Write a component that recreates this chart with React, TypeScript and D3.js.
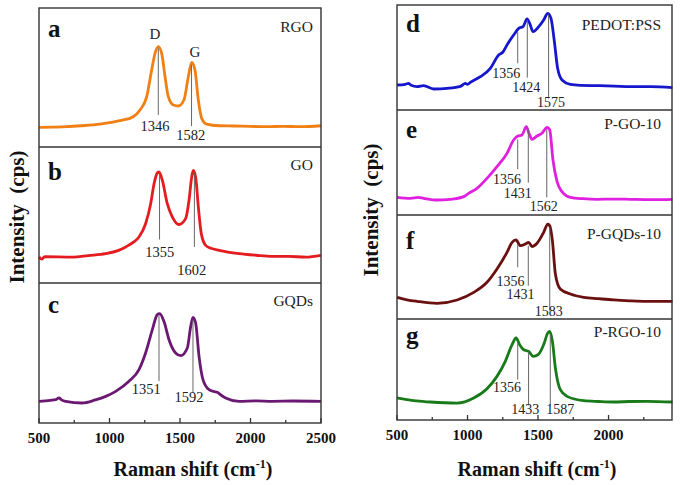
import React from 'react';
import * as d3 from 'd3';

// ---------- data (wavenumber cm-1, relative intensity 0-100 of each panel) ----------
const leftTicks = [500, 1000, 1500, 2000, 2500];
const rightTicks = [500, 1000, 1500, 2000];
const minorTicks = [750, 1250, 1750, 2250];

const rgo: [number, number][] = [[500,14.1],[600,14.3],[696,14.6],[800,15.3],[933,16.5],[1074,18.9],[1169,21.8],[1216,26.6],[1264,36.2],[1299,55.4],[1323,67.4],[1346,72.2],[1370,67.4],[1394,50.6],[1417,36.2],[1453,30.2],[1488,29.5],[1528,33.8],[1559,50.6],[1583,60.9],[1606,55.4],[1630,33.8],[1654,20.6],[1689,16.5],[1780,15.3],[1878,15.1],[2000,14.8],[2115,14.6],[2230,14.9],[2351,14.6],[2500,15.3]];
const go: [number, number][] = [[500,19.1],[520,17.5],[540,19.3],[736,19],[850,20.2],[973,21.6],[1060,23.8],[1115,26.5],[1170,30],[1209,33.8],[1256,43.6],[1292,58.3],[1316,73],[1339,80.9],[1351,81.6],[1375,75.5],[1410,58.3],[1446,48.5],[1493,43],[1540,47.3],[1564,60.8],[1583,78],[1594,82.8],[1611,78],[1630,55.9],[1651,36.3],[1682,27.7],[1720,25.5],[1777,24],[1918,21.6],[2040,20.4],[2155,19.6],[2270,19.6],[2391,19],[2500,20.3]];
const gqds: [number, number][] = [[500,15.5],[580,16.2],[618,16.7],[642,17.9],[660,16.5],[689,15.5],[807,14.3],[900,16.5],[973,19],[1044,22.6],[1138,29.8],[1209,38.1],[1256,50],[1304,66.7],[1339,77.4],[1356,78.1],[1386,72.6],[1422,59.5],[1469,50],[1505,48.1],[1552,53.6],[1576,69],[1592,75.5],[1611,71.4],[1635,47.6],[1663,31],[1706,23.8],[1740,22.5],[1765,21.9],[1790,20],[1824,17.9],[1918,15.5],[2040,15.8],[2155,15.5],[2300,15.7],[2500,15.5]];
const pedot: [number, number][] = [[500,23.8],[560,24.5],[583,25.4],[600,23.5],[642,22.2],[689,23.2],[760,20],[855,20.6],[950,22.5],[985,25.4],[1000,24.5],[1020,26.3],[1091,31.7],[1162,39.7],[1221,52.4],[1250,55],[1280,61.9],[1327,71.4],[1363,77.8],[1394,79.4],[1422,86.7],[1441,82.5],[1465,74.6],[1505,79.4],[1540,85.7],[1569,92.1],[1592,87.3],[1616,65.1],[1639,39.7],[1670,28.6],[1729,24.4],[1800,23.5],[1918,23.2],[2040,22.8],[2155,22.2],[2300,22.2],[2453,21.3]];
const pgo: [number, number][] = [[500,16.8],[595,15.9],[650,16.8],[689,15.9],[784,14.3],[878,14.9],[973,17.5],[1008,20.6],[1067,25.4],[1138,34.9],[1209,46],[1280,58.7],[1327,71.4],[1356,75.2],[1386,76.2],[1417,84.1],[1436,77.8],[1457,72.1],[1493,75.2],[1528,77.8],[1564,83.5],[1583,81],[1606,52.4],[1635,31.7],[1670,22.2],[1729,16.8],[1820,15.5],[1918,14.9],[2040,15.2],[2155,14.9],[2300,14.6],[2453,14.9]];
const pgqds: [number, number][] = [[500,20.8],[570,18.5],[642,17],[784,15.1],[926,18.3],[1044,25.6],[1138,35.3],[1209,48.1],[1280,64.1],[1316,73.7],[1344,76],[1375,70.5],[1410,72.1],[1434,73.7],[1457,69.6],[1493,72.8],[1540,83.3],[1569,91.3],[1583,89.7],[1602,75.3],[1623,43.3],[1658,28.8],[1729,24],[1824,20.8],[1930,19.5],[2037,18.3],[2150,17.5],[2273,17],[2453,17]];
const prgo: [number, number][] = [[500,21.8],[560,20.5],[618,19.1],[736,17.8],[926,16.8],[1044,21.8],[1138,31],[1209,43.2],[1268,58.1],[1316,74.6],[1344,81.2],[1370,74.6],[1398,69.6],[1434,68],[1465,63],[1505,65.3],[1540,74.6],[1569,86.1],[1583,87.8],[1602,77.9],[1623,51.5],[1658,30],[1706,23.4],[1824,19.1],[1930,18.3],[2037,17.8],[2150,18.3],[2273,18.5],[2453,17.8]];

// peak annotations: [peak label, line top I, line bottom I, label centre wavenumber, label baseline I]
const rgoPeaks: [number, number, number, number, number][] = [[1346,71,23,1323,11.8],[1582,59,15,1576,5]];
const goPeaks: [number, number, number, number, number][] = [[1355,80,32,1356,19],[1602,81,26.5,1583,5.6]];
const gqdsPeaks: [number, number, number, number, number][] = [[1351,77,30,1261,20.7],[1592,73.8,21.4,1564,14.8]];
const pedotPeaks: [number, number, number, number, number][] = [[1356,74.6,44.4,1275,30.8],[1424,85.7,30.8,1417,16.8],[1575,91,11,1592,3.2]];
const pgoPeaks: [number, number, number, number, number][] = [[1356,72,43.5,1280,29.5],[1431,82.5,30.8,1356,15.9],[1562,81.6,16.8,1540,3.8]];
const pgqdsPeaks: [number, number, number, number, number][] = [[1356,72,49.7,1304,32],[1431,70.5,32,1375,19.2],[1583,88,8,1576,3.2]];
const prgoPeaks: [number, number, number, number, number][] = [[1356,76,40,1280,27.7],[1433,68,14.5,1410,5.9],[1587,84.5,14.5,1658,5.9]];

// D / G band letters: [text, wavenumber, I]
const bandLabels: [string, number, number][] = [['D', 1323, 77.5], ['G', 1606, 65]];

const FONT = '"Liberation Serif", "Times New Roman", serif';

type Peak = [number, number, number, number, number];
interface PanelDef {
  letter: string; name: string; data: [number, number][]; peaks: Peak[]; color: string;
  top: number; bottom: number; letterDy: number; nameDy: number;
}

export default function App() {
  const leftX = d3.scaleLinear().domain([500, 2500]).range([39, 321]);
  const rightX = d3.scaleLinear().domain([500, 2450]).range([397, 672]);

  const leftPanels: PanelDef[] = [
    { letter: 'a', name: 'RGO', data: rgo, peaks: rgoPeaks, color: '#f07f14', top: 8, bottom: 147, letterDy: 29, nameDy: 24 },
    { letter: 'b', name: 'GO', data: go, peaks: goPeaks, color: '#e41c1f', top: 147, bottom: 283, letterDy: 33, nameDy: 23 },
    { letter: 'c', name: 'GQDs', data: gqds, peaks: gqdsPeaks, color: '#6b1872', top: 283, bottom: 423, letterDy: 30, nameDy: 23 },
  ];
  const rightPanels: PanelDef[] = [
    { letter: 'd', name: 'PEDOT:PSS', data: pedot, peaks: pedotPeaks, color: '#1616cc', top: 5, bottom: 110, letterDy: 27, nameDy: 25 },
    { letter: 'e', name: 'P-GO-10', data: pgo, peaks: pgoPeaks, color: '#e020e0', top: 110, bottom: 215, letterDy: 28, nameDy: 19 },
    { letter: 'f', name: 'P-GQDs-10', data: pgqds, peaks: pgqdsPeaks, color: '#6b1010', top: 215, bottom: 319, letterDy: 34, nameDy: 24 },
    { letter: 'g', name: 'P-RGO-10', data: prgo, peaks: prgoPeaks, color: '#187a18', top: 319, bottom: 420, letterDy: 25, nameDy: 18 },
  ];

  const renderPanel = (p: PanelDef, x: d3.ScaleLinear<number, number>, numSize: number, nameRight: number, withBands: boolean) => {
    const y = d3.scaleLinear().domain([0, 100]).range([p.bottom, p.top]);
    const line = d3.line<[number, number]>().x(d => x(d[0])).y(d => y(d[1])).curve(d3.curveMonotoneX);
    const [x0] = x.range();
    return (
      <g key={p.letter}>
        <path d={line(p.data) || ''} fill="none" stroke={p.color} strokeWidth={2.8} strokeLinejoin="round" />
        {p.peaks.map(pk => (
          <g key={pk[0]}>
            <line x1={x(pk[0])} x2={x(pk[0])} y1={y(pk[1])} y2={y(pk[2])} stroke="#666" strokeWidth={1} />
            <text x={x(pk[3])} y={y(pk[4])} textAnchor="middle" fontSize={numSize} fill="#222">{pk[0]}</text>
          </g>
        ))}
        {withBands && bandLabels.map(b => (
          <text key={b[0]} x={x(b[1])} y={y(b[2])} textAnchor="middle" fontSize={15} fill="#222">{b[0]}</text>
        ))}
        <text x={x0 + 9} y={p.top + p.letterDy} fontSize={25} fontWeight="bold" fill="#111">{p.letter}</text>
        <text x={nameRight} y={p.top + p.nameDy} textAnchor="end" fontSize={15.5} fill="#222">{p.name}</text>
      </g>
    );
  };

  const frame = (panels: PanelDef[], x: d3.ScaleLinear<number, number>) => {
    const [x0, x1] = x.range();
    const top = panels[0].top;
    const bottom = panels[panels.length - 1].bottom;
    return (
      <g>
        <rect x={x0} y={top} width={x1 - x0} height={bottom - top} fill="none" stroke="#333" strokeWidth={1.4} />
        {panels.slice(1).map(p => (
          <line key={p.letter} x1={x0} x2={x1} y1={p.top} y2={p.top} stroke="#333" strokeWidth={1.4} />
        ))}
      </g>
    );
  };

  const axis = (x: d3.ScaleLinear<number, number>, ticks: number[], bottom: number) => (
    <g>
      {ticks.map(t => (
        <g key={t}>
          <line x1={x(t)} x2={x(t)} y1={bottom} y2={bottom - 5} stroke="#333" strokeWidth={1.3} />
          <text x={x(t)} y={bottom + 20} textAnchor="middle" fontSize={15} fontWeight="bold" fill="#111">{t}</text>
        </g>
      ))}
      {minorTicks.map(t => (
        <line key={t} x1={x(t)} x2={x(t)} y1={bottom} y2={bottom - 3} stroke="#333" strokeWidth={1.3} />
      ))}
    </g>
  );

  const xTitle = (cx: number) => (
    <text x={cx} y={476} textAnchor="middle" fontSize={20} fontWeight="bold" fill="#111">
      Raman shift (cm<tspan fontSize={12} dy={-8}>-1</tspan><tspan dy={8}>)</tspan>
    </text>
  );

  const yTitle = (x: number, cy: number) => (
    <text transform={`translate(${x},${cy}) rotate(-90)`} textAnchor="middle" fontSize={21} fontWeight="bold" fill="#111" xmlSpace="preserve">
      Intensity{'\u00a0\u00a0'}(cps)
    </text>
  );

  return (
    <svg width={685} height={485} style={{ position: 'absolute', left: 0, top: 0, background: '#fff' }} fontFamily={FONT}>
      <rect x={0} y={0} width={685} height={485} fill="#fff" />
      {leftPanels.map((p, i) => renderPanel(p, leftX, 14.5, 313, i === 0))}
      {rightPanels.map(p => renderPanel(p, rightX, 14, 661, false))}
      {frame(leftPanels, leftX)}
      {frame(rightPanels, rightX)}
      {axis(leftX, leftTicks, 423)}
      {axis(rightX, rightTicks, 420)}
      {xTitle(193)}
      {xTitle(537)}
      {yTitle(24, 217)}
      {yTitle(378, 210)}
    </svg>
  );
}
